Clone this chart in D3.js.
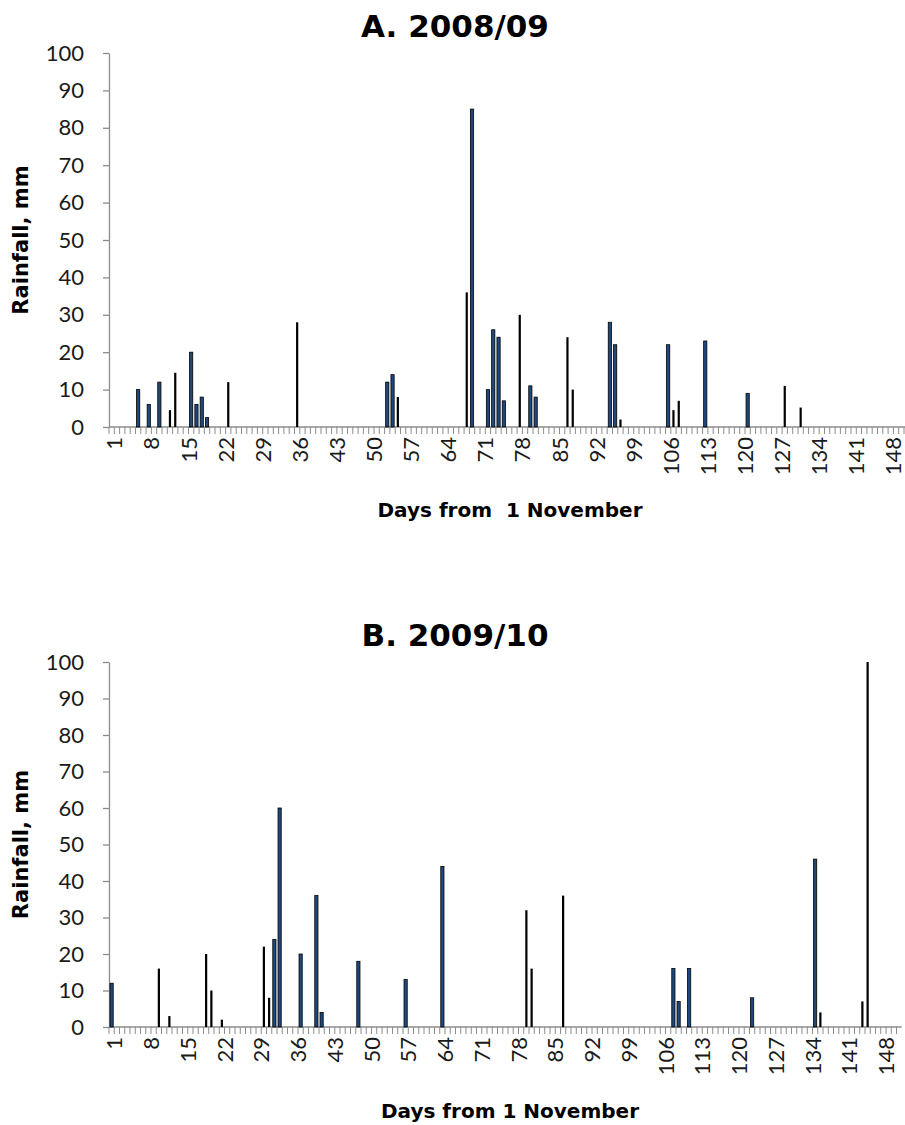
<!DOCTYPE html>
<html>
<head>
<meta charset="utf-8">
<script src="https://cdn.jsdelivr.net/npm/d3@7"></script>
<style>
  body { margin: 0; background: #fff; }
</style>
</head>
<body>
<script>
// Daily rainfall, days counted from 1 November
var w = 905;
var h = 1125;

var dayCount = 151;
var dayLabels = d3.range(1, 152, 7);   // 1, 8, 15 ... 148
var yTicks = d3.range(0, 101, 10);

// 2008/09 season
var daysA_blue = [6, 8, 10, 16, 17, 18, 19, 53, 54, 69, 72, 73, 74, 75, 80, 81, 95, 96, 106, 113, 121];
var rainA_blue = [10, 6, 12, 20, 6, 8, 2.5, 12, 14, 85, 10, 26, 24, 7, 11, 8, 28, 22, 22, 23, 9];
var daysA_black = [12, 13, 23, 36, 55, 68, 78, 87, 88, 97, 107, 108, 128, 131];
var rainA_black = [4.5, 14.5, 12, 28, 8, 36, 30, 24, 10, 2, 4.5, 7, 11, 5.2];

// 2009/10 season
var daysB_blue = [1, 32, 33, 37, 40, 41, 48, 57, 64, 108, 109, 111, 123, 135];
var rainB_blue = [12, 24, 60, 20, 36, 4, 18, 13, 44, 16, 7, 16, 8, 46];
var daysB_black = [10, 12, 19, 20, 22, 30, 31, 80, 81, 87, 136, 144, 145];
var rainB_black = [16, 3, 20, 10, 2, 22, 8, 32, 16, 36, 4, 7, 100];

var svg = d3.select("body")
    .append("svg")
    .attr("width", w)
    .attr("height", h);

var axisColor = "#8c8c8c";
var boldFont = "'DejaVu Sans', sans-serif";
var tickFont = "Lato, 'Open Sans', sans-serif";

function zip(days, vals) {
    return days.map(function (d, i) { return { day: d, mm: vals[i] }; });
}

function drawPanel(p) {
    var g = svg.append("g");
    var left = 109;

    var xScale = d3.scaleBand()
        .domain(d3.range(1, dayCount + 1))
        .range([left, left + dayCount * p.step])
        .paddingInner(0)
        .paddingOuter(0);

    var yScale = d3.scaleLinear()
        .domain([0, 100])
        .range([p.bottom, p.top]);

    // title
    g.append("text")
        .attr("x", 455)
        .attr("y", p.titleY)
        .attr("text-anchor", "middle")
        .attr("font-family", boldFont)
        .attr("font-weight", "bold")
        .attr("font-size", "31px")
        .attr("fill", "#000")
        .text(p.title);

    // y axis
    var yAxis = d3.axisLeft(yScale)
        .tickValues(yTicks)
        .tickSize(6)
        .tickSizeOuter(0)
        .tickPadding(19);

    var ya = g.append("g")
        .attr("transform", "translate(" + left + ",0)")
        .call(yAxis);
    ya.select(".domain").attr("stroke", axisColor).attr("stroke-width", 1.3);
    ya.selectAll(".tick line").attr("stroke", axisColor).attr("stroke-width", 1.3);
    ya.selectAll(".tick text")
        .attr("font-family", tickFont)
        .attr("font-size", "22px")
        .attr("fill", "#1a1a1a");

    // x axis line + a tick between every day
    g.append("line")
        .attr("x1", left)
        .attr("x2", left + dayCount * p.step)
        .attr("y1", p.bottom)
        .attr("y2", p.bottom)
        .attr("stroke", axisColor)
        .attr("stroke-width", 1.3);

    g.selectAll("line.xtick")
        .data(d3.range(1, dayCount + 1))
        .enter()
        .append("line")
        .attr("class", "xtick")
        .attr("x1", function (d) { return xScale(d); })
        .attr("x2", function (d) { return xScale(d); })
        .attr("y1", p.bottom)
        .attr("y2", p.bottom + 7)
        .attr("stroke", axisColor)
        .attr("stroke-width", 1);

    g.selectAll("text.xlab")
        .data(dayLabels)
        .enter()
        .append("text")
        .attr("class", "xlab")
        .attr("transform", function (d) {
            var x = xScale(d) + xScale.bandwidth() / 2 + 3;
            return "translate(" + x + "," + (p.bottom + 10) + ") rotate(-90)";
        })
        .attr("text-anchor", "end")
        .attr("dy", "0.35em")
        .attr("font-family", tickFont)
        .attr("font-size", "22px")
        .attr("fill", "#1a1a1a")
        .text(function (d) { return d; });

    // bars: blue series
    g.selectAll("rect.blue")
        .data(zip(p.blueDays, p.blueVals))
        .enter()
        .append("rect")
        .attr("class", "blue")
        .attr("x", function (d) { return xScale(d.day) + xScale.bandwidth() / 2 - 1.6; })
        .attr("y", function (d) { return yScale(d.mm); })
        .attr("width", 3.2)
        .attr("height", function (d) { return yScale(0) - yScale(d.mm); })
        .attr("fill", "#1f497d")
        .attr("stroke", "#000")
        .attr("stroke-width", 0.8);

    // bars: black series
    g.selectAll("rect.black")
        .data(zip(p.blackDays, p.blackVals))
        .enter()
        .append("rect")
        .attr("class", "black")
        .attr("x", function (d) { return xScale(d.day) + xScale.bandwidth() / 2 - 1.1; })
        .attr("y", function (d) { return yScale(d.mm); })
        .attr("width", 2.2)
        .attr("height", function (d) { return yScale(0) - yScale(d.mm); })
        .attr("fill", "#000");

    // axis titles
    g.append("text")
        .attr("transform", "translate(28," + ((p.top + p.bottom) / 2) + ") rotate(-90)")
        .attr("text-anchor", "middle")
        .attr("font-family", boldFont)
        .attr("font-weight", "bold")
        .attr("font-size", "21px")
        .attr("fill", "#000")
        .text("Rainfall, mm");

    g.append("text")
        .attr("x", 510)
        .attr("y", p.xTitleY)
        .attr("text-anchor", "middle")
        .style("white-space", "pre")
        .attr("font-family", boldFont)
        .attr("font-weight", "bold")
        .attr("font-size", "20px")
        .attr("fill", "#000")
        .text(p.xTitle);
}

drawPanel({
    title: "A. 2008/09",
    xTitle: "Days from  1 November",
    top: 53, bottom: 427, step: 5.3,
    titleY: 37, xTitleY: 517,
    blueDays: daysA_blue, blueVals: rainA_blue,
    blackDays: daysA_black, blackVals: rainA_black
});

drawPanel({
    title: "B. 2009/10",
    xTitle: "Days from 1 November",
    top: 662, bottom: 1027, step: 5.25,
    titleY: 646, xTitleY: 1118,
    blueDays: daysB_blue, blueVals: rainB_blue,
    blackDays: daysB_black, blackVals: rainB_black
});
</script>
</body>
</html>
